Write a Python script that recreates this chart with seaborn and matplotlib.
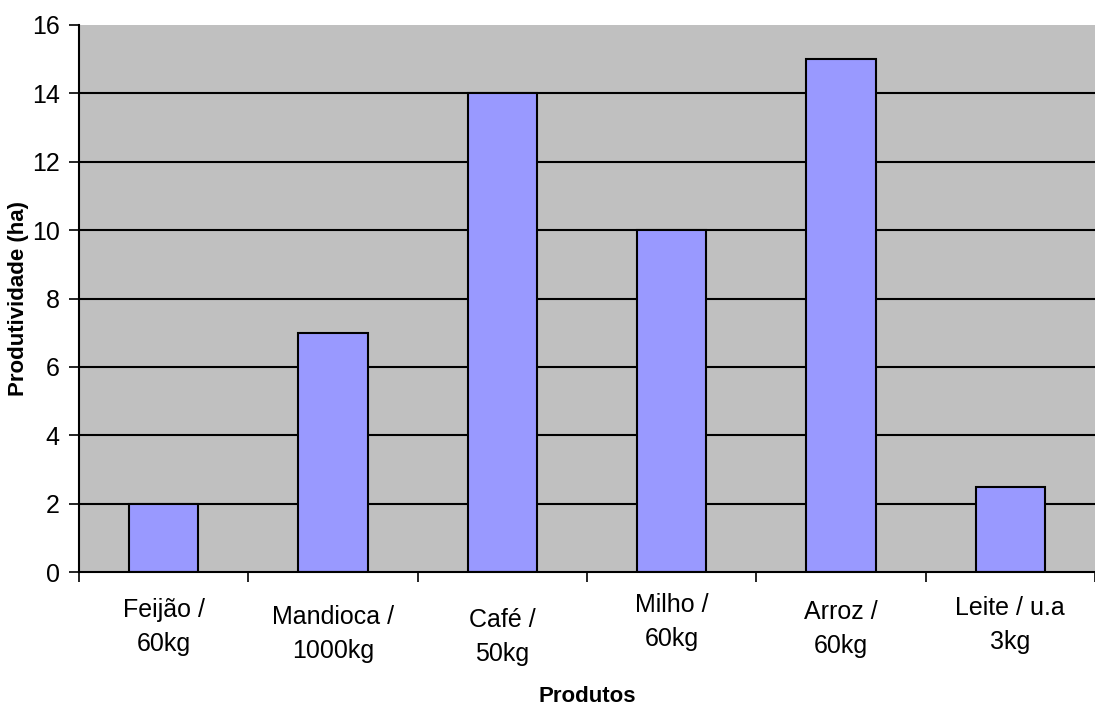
import matplotlib
matplotlib.use("Agg")
import matplotlib.pyplot as plt
from matplotlib.transforms import ScaledTranslation
import pandas as pd
import seaborn as sns

produtos = ["Feijão /\n60kg", "Mandioca /\n1000kg", "Café /\n50kg",
            "Milho /\n60kg", "Arroz /\n60kg", "Leite / u.a\n3kg"]
produtividade = [2, 7, 14, 10, 15, 2.5]
yticks = [0, 2, 4, 6, 8, 10, 12, 14, 16]
# extra downward shift of each label (px), like the staggered original
label_shift = [5, 12, 15, 0, 7, 3]

sns.set_theme(style="white")
plt.rcParams["font.family"] = ["Liberation Sans", "DejaVu Sans"]
plt.rcParams["text.color"] = "black"
plt.rcParams["axes.labelcolor"] = "black"
plt.rcParams["xtick.color"] = "black"
plt.rcParams["ytick.color"] = "black"

df = pd.DataFrame({"Produtos": produtos, "Produtividade (ha)": produtividade})

fig = plt.figure(figsize=(10.95, 7.12), dpi=100)
ax = fig.add_axes([79 / 1095, 140 / 712, 1 - 79 / 1095, 547 / 712])
ax.set_facecolor("#C0C0C0")

for y in yticks[1:-1]:
    ax.axhline(y, color="black", lw=1.5, zorder=0)

sns.barplot(data=df, x="Produtos", y="Produtividade (ha)", color="#9999FF",
            edgecolor="black", linewidth=1.5, width=0.41, saturation=1, ax=ax)

ax.set_xlim(-0.5, -0.5 + (1095 - 79) / 170.2)
ax.set_ylim(0, 16)
ax.set_yticks(yticks)
ax.tick_params(axis="y", direction="out", length=7, width=1.2,
               labelsize=18, pad=7, left=True)
ax.set_xticks(range(len(produtos)))
ax.set_xticks([i - 0.5 for i in range(len(produtos) + 1)], minor=True)
ax.tick_params(axis="x", which="major", length=0, labelsize=18, pad=15)
ax.tick_params(axis="x", which="minor", direction="out", length=7, width=1.2,
               bottom=True)
for lab, s in zip(ax.get_xticklabels(), label_shift):
    lab.set_linespacing(1.55)
    lab.set_transform(lab.get_transform() + ScaledTranslation(0, -s / 100, fig.dpi_scale_trans))

for side in ["top", "right"]:
    ax.spines[side].set_visible(False)
for side in ["left", "bottom"]:
    ax.spines[side].set_color("black")
    ax.spines[side].set_linewidth(1.5)

ax.set_xlabel("Produtos", fontsize=16, fontweight="bold", labelpad=14)
ax.set_ylabel("Produtividade (ha)", fontsize=16, fontweight="bold", labelpad=2)

fig.savefig("out.png", dpi=100)
